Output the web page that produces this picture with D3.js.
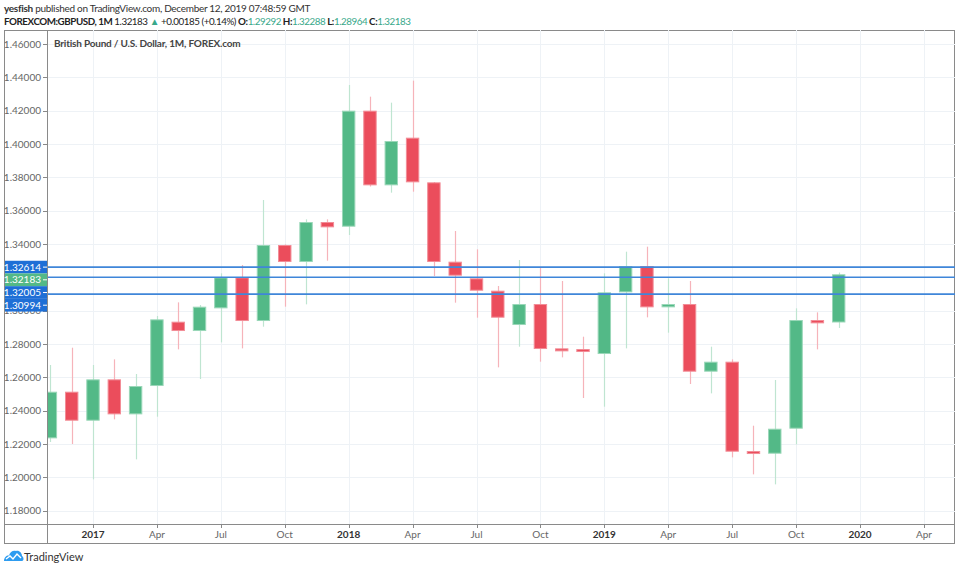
<!DOCTYPE html>
<html><head><meta charset="utf-8">
<script src="https://cdn.jsdelivr.net/npm/d3@7"></script>
<style>
html,body{margin:0;padding:0;background:#fff;}
svg{display:block;font-family:Lato,"Open Sans",sans-serif;}
</style></head>
<body><svg id="c" width="960" height="570"></svg>
<script>
// ---- data (monthly candles, Nov 2016 .. Dec 2019) ----
const months = ["2016-11","2016-12","2017-01","2017-02","2017-03","2017-04","2017-05","2017-06","2017-07","2017-08","2017-09","2017-10","2017-11","2017-12",
"2018-01","2018-02","2018-03","2018-04","2018-05","2018-06","2018-07","2018-08","2018-09","2018-10","2018-11","2018-12",
"2019-01","2019-02","2019-03","2019-04","2019-05","2019-06","2019-07","2019-08","2019-09","2019-10","2019-11","2019-12"];
const open  = [1.2234,1.2514,1.2340,1.2588,1.2378,1.2548,1.2934,1.2878,1.3014,1.3200,1.2938,1.3394,1.3292,1.3532,
1.3504,1.4200,1.3752,1.4038,1.3770,1.3294,1.3194,1.3120,1.2914,1.3040,1.2774,1.2770,
1.2740,1.3110,1.3268,1.3020,1.3040,1.2634,1.2694,1.2158,1.2142,1.2292,1.2944,1.29292];
const high  = [1.2674,1.2778,1.2674,1.2708,1.2620,1.2968,1.3050,1.3034,1.3224,1.3274,1.3664,1.3398,1.3548,1.3548,
1.4354,1.4284,1.4248,1.4380,1.3772,1.3478,1.3368,1.3148,1.3304,1.3258,1.3178,1.2844,
1.3224,1.3354,1.3384,1.3194,1.3178,1.2784,1.2708,1.2310,1.2584,1.3014,1.2990,1.32288];
const low   = [1.2212,1.2200,1.1988,1.2348,1.2108,1.2364,1.2768,1.2590,1.2810,1.2774,1.2904,1.3024,1.3038,1.3300,
1.3454,1.3745,1.3708,1.3714,1.3208,1.3048,1.2958,1.2660,1.2784,1.2694,1.2720,1.2476,
1.2424,1.2774,1.2960,1.2868,1.2560,1.2504,1.2120,1.2018,1.1958,1.2198,1.2768,1.28964];
const close = [1.2514,1.2340,1.2588,1.2378,1.2548,1.2948,1.2878,1.3024,1.3200,1.2938,1.3394,1.3292,1.3532,1.3500,
1.4200,1.3752,1.4018,1.3770,1.3292,1.3210,1.3120,1.2958,1.3040,1.2770,1.2756,1.2758,
1.3110,1.3268,1.3020,1.3040,1.2634,1.2694,1.2154,1.2142,1.2292,1.2944,1.2924,1.32183];
const yTicks = [1.18,1.20,1.22,1.24,1.26,1.28,1.30,1.32,1.34,1.36,1.38,1.40,1.42,1.44,1.46];
const yTickShown = [true,true,true,true,true,true,true,false,true,true,true,true,true,true,true];
const xTickIdx = [2,5,8,11,14,17,20,23,26,29,32,35,38,41];
const xTickLabels = ["2017","Apr","Jul","Oct","2018","Apr","Jul","Oct","2019","Apr","Jul","Oct","2020","Apr"];
const xTickBold = [true,false,false,false,true,false,false,false,true,false,false,false,true,false];
const levelLines = [1.32614,1.32005,1.30994];
const priceLabels = [
  {v:1.32614, c:"#1e6fd6"},
  {v:1.32183, c:"#53b987"},
  {v:1.32005, c:"#1e6fd6"},
  {v:1.30994, c:"#1e6fd6"}];

// ---- layout ----
const svg = d3.select("#c");
const L = 47, R = 955, T = 30, B = 524, AX = 543, FL = 4;
const x = d3.scaleLinear().domain([2,38]).range([93,860]);
const y = d3.scaleLinear().domain([1.18,1.46]).range([510.7,44]);
const bw = 13.4;

// header
const h1 = svg.append("text").attr("x",4).attr("y",12).attr("font-size",10).attr("letter-spacing",-0.3).attr("fill","#333");
h1.append("tspan").attr("font-weight","bold").text("yesfish");
h1.append("tspan").text(" published on TradingView.com, December 12, 2019 07:48:59 GMT");
const g = "#38a88a";
const h2 = svg.append("text").attr("x",4).attr("y",25).attr("font-size",9.8).attr("letter-spacing",-0.45).attr("fill","#222");
h2.append("tspan").attr("font-weight","bold").text("FOREXCOM:GBPUSD, 1M");
h2.append("tspan").text(" 1.32183 ");
h2.append("tspan").attr("fill",g).text("▲");
h2.append("tspan").text(" +0.00185 (+0.14%) ");
[["O:","1.29292"],["H:","1.32288"],["L:","1.28964"],["C:","1.32183"]].forEach((p,i)=>{
  h2.append("tspan").attr("font-weight","bold").text((i?" ":"")+p[0]);
  h2.append("tspan").attr("fill",g).text(p[1]);
});

// frame
svg.append("rect").attr("x",FL+0.5).attr("y",T+0.5).attr("width",R-FL-1).attr("height",AX-T).attr("fill","#fff").attr("stroke","#8a8a8a");

// grid
const grid = svg.append("g");
yTicks.forEach(v=>{
  grid.append("line").attr("x1",L).attr("x2",R).attr("y1",Math.round(y(v))+0.5).attr("y2",Math.round(y(v))+0.5).attr("stroke","#eef2f6");
});
xTickIdx.forEach(i=>{
  grid.append("line").attr("x1",Math.round(x(i))+0.5).attr("x2",Math.round(x(i))+0.5).attr("y1",T).attr("y2",B).attr("stroke","#eef2f6");
});

// clip
svg.append("clipPath").attr("id","pc").append("rect").attr("x",L+1).attr("y",T+1).attr("width",R-L-1).attr("height",B-T-1);
const plot = svg.append("g").attr("clip-path","url(#pc)");

const data = months.map((m,i)=>({i,o:open[i],h:high[i],l:low[i],c:close[i]}));
const up = d=>d.c>=d.o;
plot.selectAll("line.w").data(data).join("line").attr("class","w")
  .attr("x1",d=>Math.round(x(d.i))+0.5).attr("x2",d=>Math.round(x(d.i))+0.5)
  .attr("y1",d=>y(d.h)).attr("y2",d=>y(d.l))
  .attr("stroke",d=>up(d)?"#bfe5d1":"#f6b3ba").attr("stroke-width",1.2);
plot.selectAll("rect.b").data(data).join("rect").attr("class","b")
  .attr("x",d=>x(d.i)-bw/2+0.5).attr("width",bw-1)
  .attr("y",d=>Math.min(y(d.o),y(d.c))+0.5)
  .attr("height",d=>Math.max(2,Math.abs(y(d.o)-y(d.c))-1))
  .attr("fill",d=>up(d)?"#53b987":"#eb4d5c")
  .attr("stroke",d=>up(d)?"#9ad7b8":"#f28d97").attr("stroke-width",1);

// level lines
plot.selectAll("line.lv").data(levelLines).join("line").attr("class","lv")
  .attr("x1",L).attr("x2",R).attr("y1",d=>y(d)).attr("y2",d=>y(d))
  .attr("stroke","#3f86d9").attr("stroke-width",1.6);

// chart title
svg.append("text").attr("x",54).attr("y",47).attr("font-size",10).attr("letter-spacing",-0.2).attr("font-weight","bold").attr("fill","#444")
  .text("British Pound / U.S. Dollar, 1M, FOREX.com");

// price axis
svg.append("line").attr("x1",L+0.5).attr("x2",L+0.5).attr("y1",T).attr("y2",AX).attr("stroke","#8a8a8a");
const ya = svg.append("g");
yTicks.forEach((v,k)=>{
  ya.append("line").attr("x1",43).attr("x2",L).attr("y1",Math.round(y(v))+0.5).attr("y2",Math.round(y(v))+0.5).attr("stroke","#888");
  if (yTickShown[k]) ya.append("text").attr("x",41).attr("y",y(v)+3.5).attr("text-anchor","end").attr("font-size",10).attr("fill","#666").text(d3.format(".5f")(v));
});
// stacked price labels
let prev = -1e9;
const lh = 12.7;
priceLabels.forEach(p=>{
  let cy = Math.max(y(p.v), prev+lh);
  prev = cy;
  svg.append("rect").attr("x",FL+1).attr("y",cy-lh/2).attr("width",L-FL-1).attr("height",lh).attr("fill",p.c);
  svg.append("line").attr("x1",43).attr("x2",L).attr("y1",cy).attr("y2",cy).attr("stroke","#fff");
  svg.append("text").attr("x",41).attr("y",cy+3.5).attr("text-anchor","end").attr("font-size",10).attr("fill","#fff").text(d3.format(".5f")(p.v));
});

// time axis
svg.append("line").attr("x1",FL).attr("x2",R).attr("y1",B+0.5).attr("y2",B+0.5).attr("stroke","#8a8a8a");
xTickIdx.forEach((i,k)=>{
  const xx = Math.round(x(i))+0.5;
  svg.append("line").attr("x1",xx).attr("x2",xx).attr("y1",B).attr("y2",B+4).attr("stroke","#888");
  svg.append("text").attr("x",x(i)).attr("y",538).attr("text-anchor","middle").attr("font-size",10)
    .attr("font-weight",xTickBold[k]?"bold":"normal").attr("fill",xTickBold[k]?"#333":"#666").text(xTickLabels[k]);
});

// footer logo
const lg = svg.append("g").attr("transform","translate(4,550)");
lg.append("path").attr("d","M0,11 C0,7 3,5 5,5.5 C6,2 9,0 12,1 C15,0 18,3 18,6 C20,7 20,11 18,11 Z").attr("fill","#2e9cf0");
lg.append("path").attr("d","M2,9 L6,6 L9,9 L13,4 L17,8").attr("fill","none").attr("stroke","#fff").attr("stroke-width",1.4);
svg.append("text").attr("x",24).attr("y",561).attr("font-size",11).attr("fill","#333").text("TradingView");
</script>
</body></html>
